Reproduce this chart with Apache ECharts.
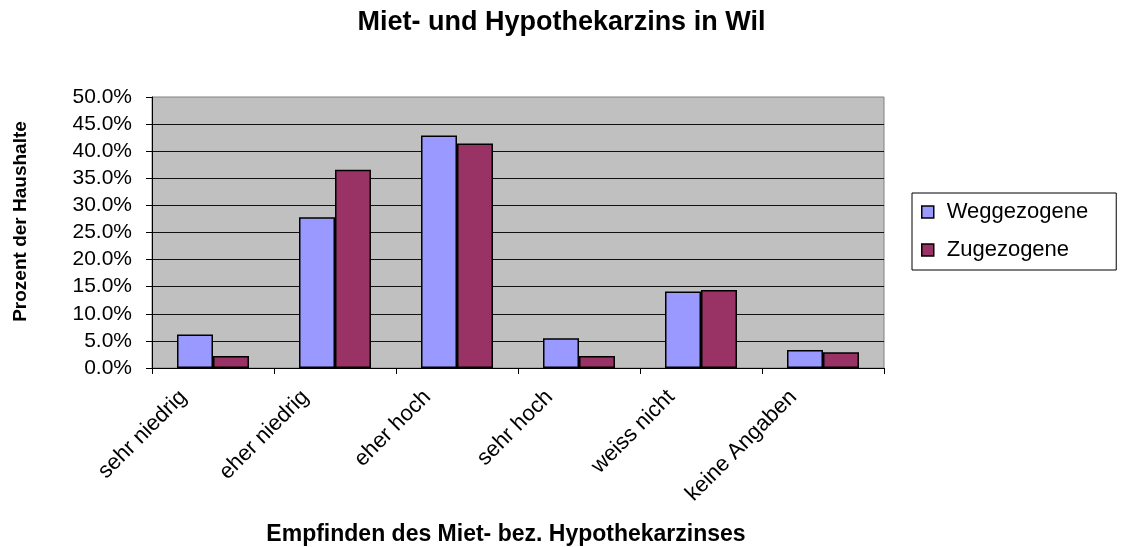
<!DOCTYPE html>
<html>
<head>
<meta charset="utf-8">
<script src="https://cdn.jsdelivr.net/npm/echarts@6/dist/echarts.min.js"></script>
<style>
html,body{margin:0;padding:0;background:#fff;}
#chart{width:1123px;height:547px;}
</style>
</head>
<body>
<div id="chart"></div>
<script>
var categories = ['sehr niedrig', 'eher niedrig', 'eher hoch', 'sehr hoch', 'weiss nicht', 'keine Angaben'];
var weggezogene = [6.2, 27.8, 42.9, 5.5, 14.1, 3.3];
var zugezogene = [2.2, 36.6, 41.4, 2.2, 14.4, 2.9];
var seriesNames = ['Weggezogene', 'Zugezogene'];
var titleText = 'Miet- und Hypothekarzins in Wil';
var xAxisTitle = 'Empfinden des Miet- bez. Hypothekarzinses';
var yAxisTitle = 'Prozent der Haushalte';

var FONT = '"Liberation Sans", Arial, sans-serif';
var chart = echarts.init(document.getElementById('chart'));
chart.setOption({
  animation: false,
  backgroundColor: '#ffffff',
  textStyle: {fontFamily: FONT, color: '#000'},
  title: {
    text: titleText,
    left: 'center',
    top: 4,
    textStyle: {fontFamily: FONT, fontSize: 27, fontWeight: 'bold', color: '#000'}
  },
  legend: {
    orient: 'vertical',
    left: 912,
    top: 193,
    padding: [8, 28, 9, 9],
    backgroundColor: '#ffffff',
    borderColor: '#000',
    borderWidth: 1,
    itemWidth: 12,
    itemHeight: 12,
    itemGap: 16,
    icon: 'rect',
    itemStyle: {borderWidth: 1.5, borderColor: '#000'},
    textStyle: {fontFamily: FONT, fontSize: 22, color: '#000', padding: [0, 0, 0, 8]},
    data: seriesNames
  },
  grid: {
    left: 152,
    right: 239,
    top: 97,
    bottom: 179,
    show: true,
    backgroundColor: '#C0C0C0',
    borderColor: '#808080',
    borderWidth: 1,
    containLabel: false,
    outerBoundsMode: 'none'
  },
  xAxis: {
    type: 'category',
    data: categories,
    name: xAxisTitle,
    nameLocation: 'middle',
    nameGap: 155,
    nameMoveOverlap: false,
    nameTextStyle: {fontFamily: FONT, fontSize: 23, fontWeight: 'bold', color: '#000', padding: [0, 24, 0, 0]},
    axisLine: {show: true, lineStyle: {color: '#000', width: 1}},
    axisTick: {show: true, length: 6, lineStyle: {color: '#000'}},
    axisLabel: {
      rotate: 45,
      interval: 0,
      margin: -4,
      fontFamily: FONT,
      fontSize: 22,
      color: '#000',
      padding: [0, 42, 0, 0]
    },
    splitLine: {show: false}
  },
  yAxis: {
    type: 'value',
    min: 0,
    max: 50,
    interval: 5,
    name: yAxisTitle,
    nameLocation: 'middle',
    nameGap: 122,
    nameRotate: 90,
    nameTextStyle: {fontFamily: FONT, fontSize: 19, fontWeight: 'bold', color: '#000', padding: [0, 0, 0, 22]},
    axisLine: {show: true, lineStyle: {color: '#000', width: 1}},
    axisTick: {show: true, length: 6, lineStyle: {color: '#000'}},
    axisLabel: {
      margin: 20,
      fontFamily: FONT,
      fontSize: 21,
      color: '#000',
      formatter: function (v) { return v.toFixed(1) + '%'; }
    },
    splitLine: {show: true, showMinLine: false, showMaxLine: false, lineStyle: {color: '#111', width: 1}}
  },
  series: [
    {
      name: seriesNames[0],
      type: 'bar',
      data: weggezogene,
      barWidth: 36,
      barGap: '0%',
      itemStyle: {color: '#9999FF', borderColor: '#000', borderWidth: 1.5}
    },
    {
      name: seriesNames[1],
      type: 'bar',
      data: zugezogene,
      barWidth: 36,
      barGap: '0%',
      itemStyle: {color: '#993366', borderColor: '#000', borderWidth: 1.5}
    }
  ]
});
</script>
</body>
</html>
